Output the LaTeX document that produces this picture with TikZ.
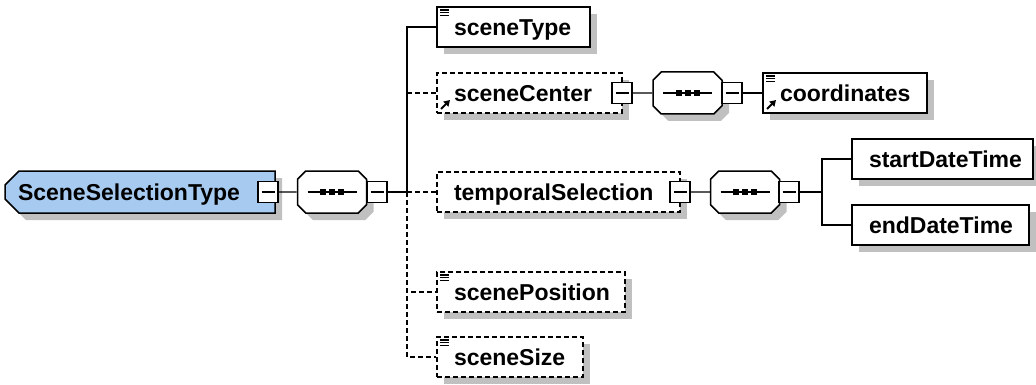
\documentclass[tikz,border=0pt]{standalone}
\usepackage{fontspec}
\setmainfont{Liberation Sans}
\usetikzlibrary{shapes.misc,shadows,arrows.meta}
\hyphenpenalty=10000
\definecolor{typeblue}{RGB}{166,202,240}
\definecolor{shadowgray}{RGB}{192,192,192}
\newcommand{\lineicon}{\foreach \k in {3,5.7,8.4} \draw[solid, black, line width=1.1pt] ([xshift=3pt,yshift=-\k pt]path picture bounding box.north west) -- ++(9pt,0pt);}
\newcommand{\arrowicon}{\draw[solid, black, line width=1.8pt, -{Triangle[length=6pt,width=7pt]}] ([xshift=4pt,yshift=4pt]path picture bounding box.south west) -- ++(9pt,9pt);}
\begin{document}
\begin{tikzpicture}[x=1pt, y=-1pt, line width=1.3pt, font=\fontsize{23}{26}\selectfont\bfseries]
	\tikzstyle{elem} = [rectangle, draw=black, line width=1.5pt, fill=white, minimum height=40pt, inner xsep=17pt, inner ysep=0pt, text height=16.5pt, text depth=0pt, align=left, drop shadow={shadow xshift=7pt, shadow yshift=-7pt, fill=shadowgray, opacity=1}]
	\tikzstyle{opt} = [dash pattern=on 5pt off 3pt]
	\tikzstyle{ctype} = [elem, chamfered rectangle, chamfered rectangle corners={north west, south west}, chamfered rectangle xsep=7pt, chamfered rectangle ysep=7pt, fill=typeblue, minimum height=42pt, inner xsep=6pt]
	\tikzstyle{seqbox} = [elem, chamfered rectangle, chamfered rectangle xsep=9pt, chamfered rectangle ysep=10pt, minimum width=69pt, minimum height=42pt, inner xsep=0pt, path picture={
		\draw[black, line width=1.3pt] ([xshift=10pt]path picture bounding box.west) -- ([xshift=-10pt]path picture bounding box.east);
		\foreach \d in {-9,0,9} \fill[black] ([xshift=\d pt]path picture bounding box.center) +(-3pt,-3pt) rectangle +(3pt,3pt);}]
	\tikzstyle{fold} = [rectangle, draw=black, line width=1.5pt, fill=white, minimum width=20pt, minimum height=21pt, inner sep=0pt, path picture={\draw[black, line width=1.2pt] ([xshift=3.5pt]path picture bounding box.west) -- ([xshift=-3.5pt]path picture bounding box.east);}]
	\useasboundingbox (0,0) rectangle (1036,385);
	% root type and its sequence
	\node[ctype, text width=244pt] (selType) at (140,192) {SceneSelectionType};
	\node[fold] (foldA) at (268,192) {};
	\node[seqbox] (seqA) at (332,192) {};
	\node[fold] (foldB) at (377,192) {};
	\coordinate (bar) at (407,192);
	% children
	\node[elem, text width=119pt, path picture={\lineicon}] (sceneType) at (513.5,27) {sceneType};
	\node[elem, opt, text width=151pt, path picture={\arrowicon}] (sceneCenter) at (529.5,93) {sceneCenter};
	\node[fold] (foldC) at (622,93) {};
	\node[seqbox] (seqB) at (687.5,93) {};
	\node[fold] (foldD) at (732,93) {};
	\node[elem, text width=130pt, path picture={\lineicon\arrowicon}] (coords) at (845,93) {coordinates};
	\node[elem, opt, text width=209pt] (temporalSel) at (558.5,192) {temporalSelection};
	\node[fold] (foldE) at (680,192) {};
	\node[seqbox] (seqC) at (745,192) {};
	\node[fold] (foldF) at (789,192) {};
	\coordinate (split) at (822,192);
	\node[elem, text width=147pt] (startDT) at (942.5,159) {startDateTime};
	\node[elem, text width=143pt] (endDT) at (940.5,225) {endDateTime};
	\node[elem, opt, text width=154pt, path picture={\lineicon}] (scenePos) at (531,292) {scenePosition};
	\node[elem, opt, text width=112pt, path picture={\lineicon}] (sceneSize) at (510,357) {sceneSize};
	% connectors
	\draw (foldA) -- (seqA);
	\draw (seqA) -- (foldB);
	\draw (foldB) -- (bar);
	\draw[opt] (bar) -- (temporalSel.west);
	\draw[opt] (bar) |- (scenePos.west);
	\draw[opt] (bar) |- (sceneSize.west);
	\draw[opt] (bar |- sceneCenter.west) -- (sceneCenter.west);
	\draw (bar) |- (sceneType.west);
	\draw (foldC) -- (seqB);
	\draw (foldD) -- (coords);
	\draw (foldE) -- (seqC);
	\draw (foldF) -- (split);
	\draw (split) |- (startDT.west);
	\draw (split) |- (endDT.west);
\end{tikzpicture}
\end{document}
